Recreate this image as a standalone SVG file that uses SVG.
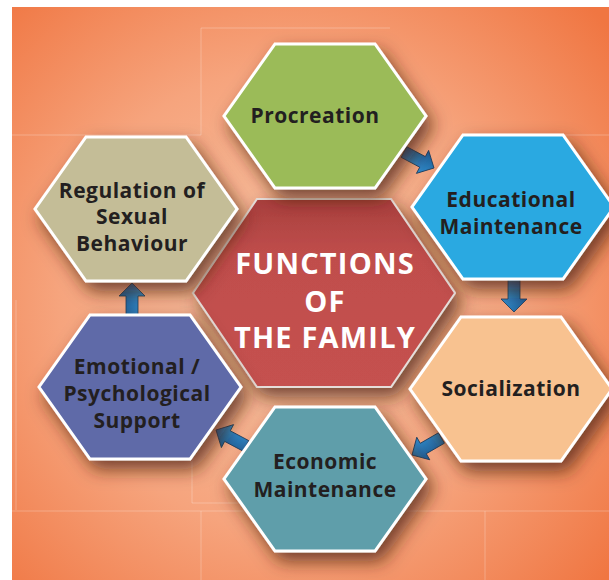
<svg xmlns="http://www.w3.org/2000/svg" width="609" height="580" viewBox="0 0 609 580">
<defs>
<radialGradient id="bg" cx="290" cy="300" r="420" gradientUnits="userSpaceOnUse">
<stop offset="0" stop-color="#F8C4A6"/>
<stop offset="0.55" stop-color="#F6A47D"/>
<stop offset="1" stop-color="#F07642"/>
</radialGradient>
<linearGradient id="red" x1="0" y1="0" x2="0" y2="1">
<stop offset="0" stop-color="#A83F3D"/>
<stop offset="0.3" stop-color="#C04E4C"/>
<stop offset="1" stop-color="#C5514F"/>
</linearGradient>
<linearGradient id="arr" x1="0" y1="0" x2="0" y2="1">
<stop offset="0" stop-color="#1D5A90"/>
<stop offset="1" stop-color="#3190D2"/>
</linearGradient>
<filter id="sh" x="-30%" y="-30%" width="160%" height="170%">
<feGaussianBlur in="SourceAlpha" stdDeviation="9"/>
<feOffset dx="6" dy="9" result="b"/>
<feFlood flood-color="#4A2210" flood-opacity="0.75"/>
<feComposite in2="b" operator="in"/>
<feMerge><feMergeNode/><feMergeNode in="SourceGraphic"/></feMerge>
</filter>
<path id="ah" d="M0,0 L-13,-13 L-13,-6 L-34,-6 L-34,6 L-13,6 L-13,13 Z"/>
</defs>
<style>
.hex{stroke:#FFFFFF;stroke-width:3;filter:url(#sh)}
.t{font-family:"Open Sans","DejaVu Sans",sans-serif;font-weight:700;font-size:21px;letter-spacing:0.5px;fill:#231F20;text-anchor:middle}
.c{font-family:"Open Sans","DejaVu Sans",sans-serif;font-weight:700;font-size:29px;letter-spacing:1.2px;fill:#FFFFFF;text-anchor:middle}
.ln{stroke:#FFFFFF;stroke-opacity:0.25;stroke-width:1;fill:none}
.a{fill:url(#arr);stroke:#1A3C5C;stroke-width:0.8}
</style>
<rect x="0" y="0" width="609" height="580" fill="#FFFFFF"/>
<rect x="12" y="7" width="597" height="573" fill="url(#bg)"/>
<g id="bglines">
<path class="ln" d="M201,28 H390 M201,28 V135 M12,135 H201 M487,135 H609 M16,300 V510 M12,511 H609 M201,511 V580 M485,511 V580 M192,380 V503 H330"/>
</g>
<g id="connectors">
<use href="#ah" class="a" transform="translate(434,168) rotate(28)"/>
<use href="#ah" class="a" transform="translate(514,312) rotate(90)"/>
<use href="#ah" class="a" transform="translate(412,455) rotate(150)"/>
<use href="#ah" class="a" transform="translate(216,430) rotate(208)"/>
<use href="#ah" class="a" transform="translate(132,283) rotate(-90)"/>
</g>
<g id="center">
<polygon class="hex" points="257,199 391,199 455,293 391,387 257,387 193,293" fill="url(#red)" style="stroke:#E6DEDA;stroke-width:2"/>
<text class="c" x="325" y="274">FUNCTIONS</text>
<text class="c" x="325" y="312">OF</text>
<text class="c" x="325" y="348">THE FAMILY</text>
</g>
<g id="procreation">
<polygon class="hex" points="275,44 375,44 426,116 375,188 275,188 224,116" fill="#9BBB59"/>
<text class="t" x="315" y="123">Procreation</text>
</g>
<g id="educational">
<polygon class="hex" points="463,135 563,135 614,207 563,279 463,279 412,207" fill="#29A9E1"/>
<text class="t" x="511" y="207">Educational</text>
<text class="t" x="511" y="234">Maintenance</text>
</g>
<g id="socialization">
<polygon class="hex" points="461,317 561,317 612,389 561,461 461,461 410,389" fill="#F8C290"/>
<text class="t" x="511" y="396">Socialization</text>
</g>
<g id="economic">
<polygon class="hex" points="275,407 375,407 426,479 375,551 275,551 224,479" fill="#5F9EAA"/>
<text class="t" x="325" y="469">Economic</text>
<text class="t" x="325" y="497">Maintenance</text>
</g>
<g id="emotional">
<polygon class="hex" points="90,315 190,315 241,387 190,459 90,459 39,387" fill="#5F6AA8"/>
<text class="t" x="137" y="374">Emotional /</text>
<text class="t" x="137" y="401">Psychological</text>
<text class="t" x="137" y="428">Support</text>
</g>
<g id="regulation">
<polygon class="hex" points="86,137 186,137 237,209 186,281 86,281 35,209" fill="#C4BD97"/>
<text class="t" x="132" y="198">Regulation of</text>
<text class="t" x="132" y="224">Sexual</text>
<text class="t" x="132" y="251">Behaviour</text>
</g>
</svg>
